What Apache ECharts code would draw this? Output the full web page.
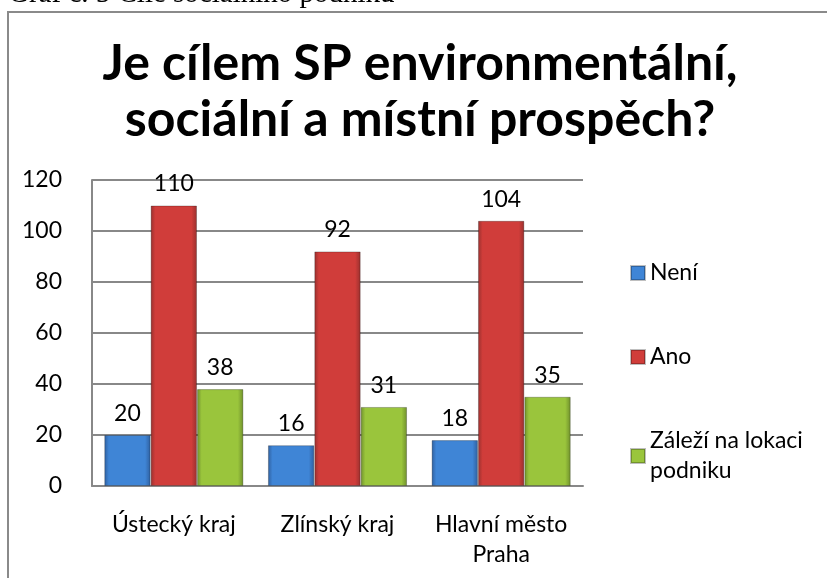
<!DOCTYPE html>
<html><head><meta charset="utf-8">
<script src="https://cdn.jsdelivr.net/npm/echarts@6/dist/echarts.min.js"></script>
<style>html,body{margin:0;padding:0;background:#fff}#c{width:827px;height:578px}</style>
</head><body><div id="c"></div>
<script>
var categories = ['Ústecký kraj', 'Zlínský kraj', 'Hlavní město\nPraha'];
var seriesNames = ['Není', 'Ano', 'Záleží na lokaci podniku'];
var neni = [20, 16, 18];
var ano = [110, 92, 104];
var zalezi = [38, 31, 35];
var yTicks = {min: 0, max: 120, interval: 20};

var FONT = 'Lato';
function grad(dark, mid) {
  return new echarts.graphic.LinearGradient(0, 0, 1, 0, [
    {offset: 0, color: dark}, {offset: 0.1, color: mid}, {offset: 0.88, color: mid}, {offset: 1, color: dark}
  ]);
}
var colors = [
  grad('#2f5f9e', '#3f85d6'),
  grad('#98302e', '#d03d3a'),
  grad('#6f8f2c', '#9ac53c')
];
var flat = ['#3f85d6', '#d03d3a', '#9ac53c'];
var dataSets = [neni, ano, zalezi];

var chart = echarts.init(document.getElementById('c'));
var series = seriesNames.map(function (n, i) {
  return {
    name: n, type: 'bar', data: dataSets[i], barGap: '0%', barCategoryGap: '15%',
    itemStyle: {color: colors[i], borderColor: 'rgba(0,0,0,0.25)', borderWidth: 1},
    label: {show: true, position: 'top', distance: 10, color: '#000', fontFamily: FONT, fontSize: 23}
  };
});
chart.setOption({
  animation: false,
  backgroundColor: '#fff',
  color: flat,
  title: {
    text: 'Je cílem SP environmentální,\nsociální a místní prospěch?',
    left: 415, top: 31, textAlign: 'center',
    textStyle: {fontFamily: FONT, fontWeight: 'bold', fontSize: 50, lineHeight: 56, color: '#000'}
  },
  graphic: [
    {type: 'rect', shape: {x: 8, y: 12, width: 900, height: 700}, style: {fill: 'none', stroke: '#8a8a8a', lineWidth: 2}, z: -1},
    {type: 'text', left: 8, top: -20, style: {text: 'Graf č. 5 Cíle sociálního podniku', font: '29px "Liberation Serif"', fill: '#000'}}
  ],
  legend: {
    orient: 'vertical', left: 625, top: 253, itemGap: 54, itemWidth: 14, itemHeight: 14,
    icon: 'rect',
    formatter: function (n) { return n === 'Záleží na lokaci podniku' ? 'Záleží na lokaci\npodniku' : n; },
    textStyle: {fontFamily: FONT, fontSize: 23, color: '#000', lineHeight: 30}
  },
  grid: {left: 92, right: 244, top: 180, bottom: 92},
  xAxis: {
    type: 'category', data: categories,
    axisLine: {lineStyle: {color: '#888', width: 2}},
    axisTick: {show: false},
    axisLabel: {interval: 0, hideOverlap: false, fontFamily: FONT, fontSize: 23, color: '#000', margin: 24, lineHeight: 30}
  },
  yAxis: {
    type: 'value', min: yTicks.min, max: yTicks.max, interval: yTicks.interval,
    axisLine: {show: true, lineStyle: {color: '#888', width: 2}},
    axisTick: {show: false},
    splitLine: {lineStyle: {color: '#888', width: 2}},
    axisLabel: {fontFamily: FONT, fontSize: 23, color: '#000', margin: 30}
  },
  series: series
});
</script></body></html>
